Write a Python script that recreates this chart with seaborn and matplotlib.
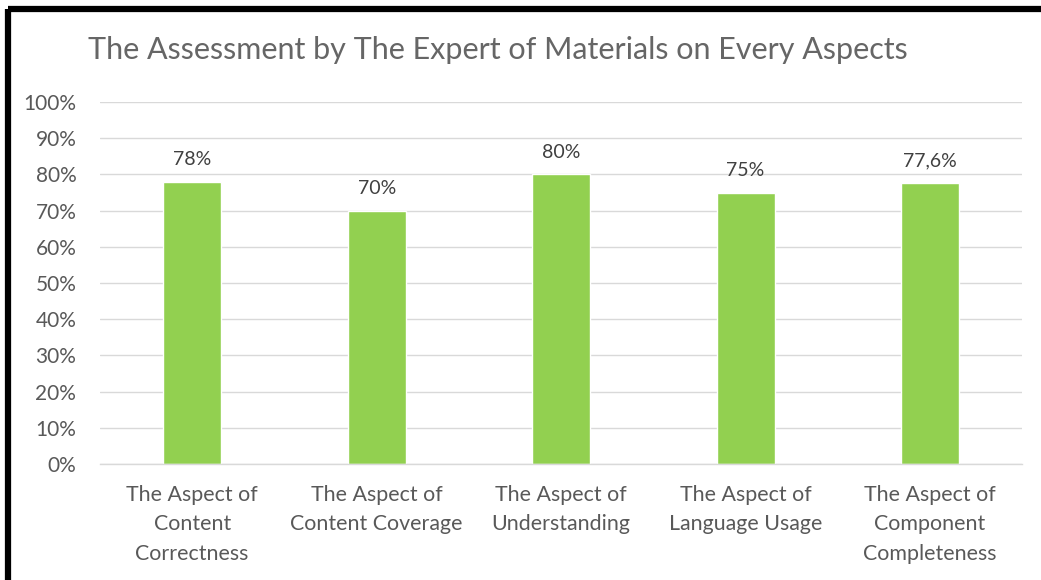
import matplotlib
matplotlib.use('Agg')
import matplotlib.pyplot as plt
import seaborn as sns
import pandas as pd
from matplotlib.lines import Line2D
from matplotlib.ticker import FuncFormatter

# data
aspects = [
    'The Aspect of\nContent\nCorrectness',
    'The Aspect of\nContent Coverage',
    'The Aspect of\nUnderstanding',
    'The Aspect of\nLanguage Usage',
    'The Aspect of\nComponent\nCompleteness',
]
scores = [78, 70, 80, 75, 77.6]
score_labels = ['78%', '70%', '80%', '75%', '77,6%']
y_ticks = [0, 10, 20, 30, 40, 50, 60, 70, 80, 90, 100]

title = 'The Assessment by The Expert of Materials on Every Aspects'

sns.set_theme(style='white')
plt.rcParams['font.family'] = ['Lato', 'DejaVu Sans']

df = pd.DataFrame({'aspect': aspects, 'score': scores})

fig = plt.figure(figsize=(10.41, 5.8), dpi=100)
ax = fig.add_axes([0.096, 0.2, 0.886, 0.624])

sns.barplot(data=df, x='aspect', y='score', color='#92D050', width=0.315,
            saturation=1, ax=ax)

ax.set_ylim(0, 100)
ax.set_yticks(y_ticks)
ax.yaxis.set_major_formatter(FuncFormatter(lambda v, p: f'{v:.0f}%'))
ax.grid(axis='y', color='#d9d9d9', linewidth=1)
ax.set_axisbelow(True)
for side in ['top', 'right', 'left']:
    ax.spines[side].set_visible(False)
ax.spines['bottom'].set_color('#d9d9d9')
ax.spines['bottom'].set_linewidth(1)
ax.tick_params(axis='both', length=0, colors='#595959')
ax.tick_params(axis='y', pad=17, labelsize=15)
ax.tick_params(axis='x', pad=15, labelsize=15.4)
for lbl in ax.get_xticklabels():
    lbl.set_linespacing(1.6)
ax.set_xlabel('')
ax.set_ylabel('')

ax.bar_label(ax.containers[0], labels=score_labels, padding=10,
             fontsize=14, color='#404040')

fig.text(0.478, 0.913, title, ha='center', va='center', fontsize=22,
         color='#666666')

# black frame around the chart (top and left edges visible)
fig.add_artist(Line2D([0.0077, 1.0], [0.984, 0.984], transform=fig.transFigure,
                      color='black', linewidth=4.5, solid_capstyle='butt'))
fig.add_artist(Line2D([0.0077, 0.0077], [0.0, 0.984], transform=fig.transFigure,
                      color='black', linewidth=4.5, solid_capstyle='butt'))

fig.savefig('out.png', dpi=100, facecolor='white')
